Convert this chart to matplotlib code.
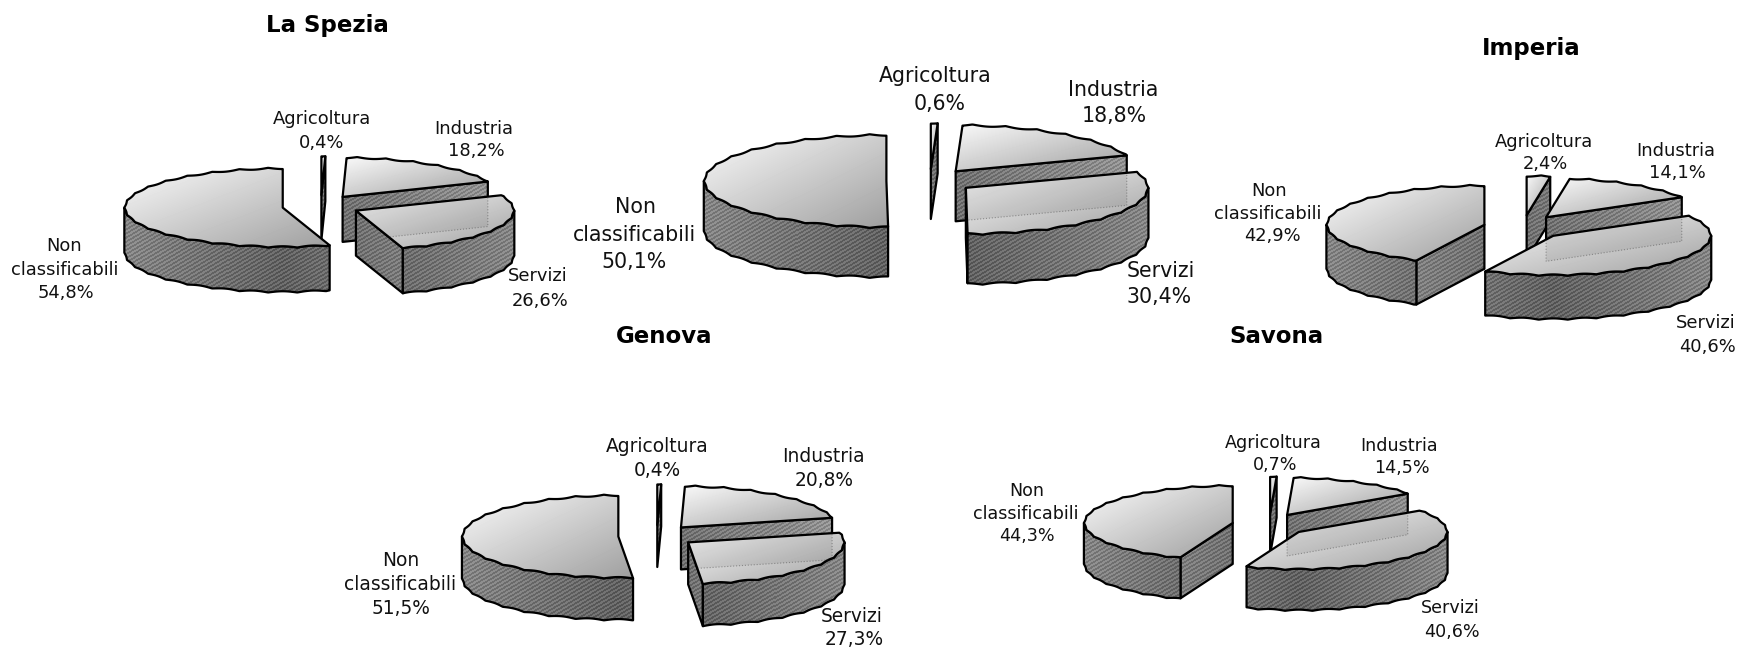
import numpy as np
import matplotlib
matplotlib.use('Agg')
from matplotlib import pyplot as plt
from matplotlib.patches import Polygon

# Data
categories = ['Agricoltura', 'Industria', 'Servizi', 'Non\nclassificabili']
la_spezia = [0.4, 18.2, 26.6, 54.8]
centro = [0.6, 18.8, 30.4, 50.1]
imperia = [2.4, 14.1, 40.6, 42.9]
genova = [0.4, 20.8, 27.3, 51.5]
savona = [0.7, 14.5, 40.6, 44.3]

W, H = 1742, 648
S = 1742 / 1568  # label positions were read on the shrunk picture
fig = plt.figure(figsize=(W / 100, H / 100), dpi=100)
ax = fig.add_axes([0, 0, 1, 1])
ax.axis('off')


def arc(cx, cy, rx, ry, a0, a1):
    th = np.radians(np.linspace(a0, a1, max(int(abs(a1 - a0) * 3), 2)))
    w = np.abs(np.cos(th * 17))
    return np.column_stack([cx + rx * (1 - 0.007 * w) * np.sin(th), cy - ry * (1 - 0.035 * w) * np.cos(th)])


def textured(poly, zorder, kind, cx=0, rx=1):
    x0, y0 = np.floor(poly.min(axis=0))
    x1, y1 = np.ceil(poly.max(axis=0))
    x = np.arange(x0, x1 + 1) + 0.5
    y = np.arange(y0, y1 + 1) + 0.5
    xx, yy = np.meshgrid(x, y)
    if kind == 'top':
        u = ((xx - x0) / max(x1 - x0, 1) + (yy - y0) / max(y1 - y0, 1)) / 2
        val = 0.98 - 0.36 * u
    else:
        val = 0.38 + 0.14 * np.minimum(np.abs(xx - cx) / rx, 1)
        if kind == 'face':
            val = val + 0.06
        val = val + 0.06 * np.sign(np.sin(2 * np.pi * (xx + 1.7 * yy) / 7))
    im = ax.imshow(val, extent=(x0, x1 + 1, y1 + 1, y0), cmap='gray', vmin=0, vmax=1,
                   aspect='auto', interpolation='nearest', zorder=zorder)
    p = Polygon(poly, closed=True, transform=ax.transData)
    im.set_clip_path(p)
    ax.add_patch(Polygon(poly, closed=True, fill=False, edgecolor='black', lw=1.6,
                         joinstyle='round', zorder=zorder + 0.1))


def pie3d(values, cx, cy, rx, ry, depth, ex, ey, z0):
    edges = np.concatenate([[0], np.cumsum(values)]) / np.sum(values) * 360
    info = {}
    for i in range(4):
        a0, a1 = edges[i], edges[i + 1]
        mid = np.radians((a0 + a1) / 2)
        ox = cx + ex * np.sin(mid)
        oy = cy - ey * np.cos(mid)
        info[i] = (a0, a1, ox, oy)

    for n, i in enumerate([0, 1, 3, 2]):
        a0, a1, ox, oy = info[i]
        z = z0 + n * 4
        apex = np.array([[ox, oy]])
        top = np.vstack([apex, arc(ox, oy, rx, ry, a0, a1)])
        down = np.array([0, depth])
        # radial faces
        for ang, vis in ((a0, np.sin(np.radians(a0)) < -0.001), (a1, np.sin(np.radians(a1)) > 0.001)):
            if vis:
                e = arc(ox, oy, rx, ry, ang, ang + 0.01)[0]
                quad = np.array([[ox, oy], e, e + down, [ox, oy + depth]])
                textured(quad, z, 'face', ox, rx)
        # outer front side
        s0, s1 = max(a0, 90), min(a1, 270)
        if s1 > s0:
            up = arc(ox, oy, rx, ry, s0, s1)
            side = np.vstack([up, (up + down)[::-1]])
            textured(side, z + 1, 'side', ox, rx)
        textured(top, z + 2, 'top')
        # industria seen through the servizi slice
        if i == 2:
            b0, b1, bx, by = info[1]
            e = arc(bx, by, rx, ry, b1, b1 + 0.01)[0]
            quad = np.array([[bx, by], e, e + down, [bx, by + depth]])
            clip = Polygon(top, closed=True, transform=ax.transData)
            ghost = Polygon(quad, closed=True, facecolor=(0, 0, 0, 0.07), edgecolor=(0.3, 0.3, 0.3, 0.5),
                            lw=0.8, ls=':', zorder=z + 2.5)
            ax.add_patch(ghost)
            ghost.set_clip_path(clip)


def label(cat, value, xs, ys, fs):
    lines = categories[cat].split('\n') + [f'{value:.1f}'.replace('.', ',') + '%']
    for line, x, y in zip(lines, xs, ys):
        ax.text(x * S, (y + 0.7) * S, line, fontsize=fs, ha='center', va='center', color='#111111', zorder=300)


def title(txt, x, y):
    ax.text(x * S, (y + 0.7) * S, txt, fontsize=16.5, fontweight='bold', ha='center', va='center', zorder=300)


# La Spezia
pie3d(la_spezia, 320.9, 206, 158.4, 40, 45, 38.6, 11, 2)
title('La Spezia', 295, 22)
label(0, la_spezia[0], [290, 289], [106, 128], 12.9)
label(1, la_spezia[1], [426, 429], [115, 135], 12.9)
label(2, la_spezia[2], [484, 486], [248, 270], 12.9)
label(3, la_spezia[3], [58, 58, 59], [221, 242, 263], 12.9)

# center chart
pie3d(centro, 930, 181, 182.6, 47, 50, 43.6, 12, 40)
label(0, centro[0], [842, 846], [68, 93], 14.8)
label(1, centro[1], [1002, 1003], [80, 104], 14.8)
label(2, centro[2], [1045, 1043], [243, 267], 14.8)
label(3, centro[3], [572, 571, 571], [186, 211, 235], 14.8)

# Imperia
pie3d(imperia, 1523.6, 227.5, 158, 40, 44, 40.2, 12.3, 80)
title('Imperia', 1378, 43)
label(0, imperia[0], [1390, 1391], [127, 147], 12.9)
label(1, imperia[1], [1508, 1510], [135, 155], 12.9)
label(2, imperia[2], [1535, 1537], [290, 312], 12.9)
label(3, imperia[3], [1142, 1141, 1145], [171, 192, 212], 12.9)

# Genova
pie3d(genova, 656.8, 536, 156.4, 42, 42, 38.5, 11, 120)
title('Genova', 598, 302)
label(0, genova[0], [592, 592], [401, 423], 13.4)
label(1, genova[1], [741, 742], [410, 432], 13.4)
label(2, genova[2], [767, 769], [554, 575], 13.4)
label(3, genova[3], [361, 360, 361], [504, 525, 547], 13.4)

# Savona
pie3d(savona, 1269.3, 525, 148.8, 38, 41, 37.2, 11.4, 160)
title('Savona', 1149, 302)
label(0, savona[0], [1146, 1148], [398, 418], 12.6)
label(1, savona[1], [1259, 1262], [401, 421], 12.6)
label(2, savona[2], [1305, 1307], [547, 568], 12.6)
label(3, savona[3], [924, 923, 924], [441, 462, 482], 12.6)

ax.set_xlim(0, W)
ax.set_ylim(H, 0)
fig.savefig('out.png', dpi=100, facecolor='white')
